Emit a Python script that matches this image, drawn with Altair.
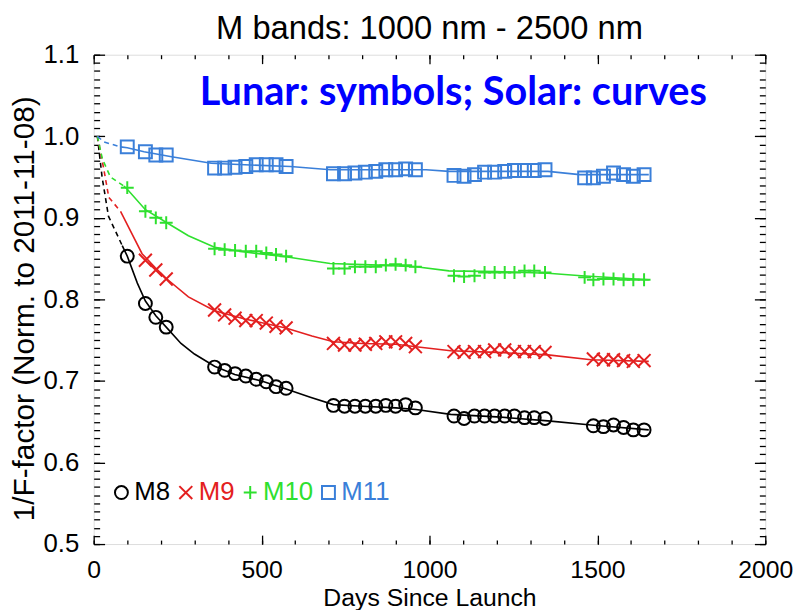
import altair as alt
import pandas as pd

TITLE = "M bands: 1000 nm - 2500 nm"
X_TITLE = "Days Since Launch"
Y_TITLE = "1/F-factor (Norm. to 2011-11-08)"
NOTE = "Lunar: symbols; Solar: curves"

bands = ["M8", "M9", "M10", "M11"]
band_colors = ["#000000", "#e32020", "#2ee02e", "#3a7fd9"]
band_shapes = ["circle", "M-1,-1L1,1M-1,1L1,-1", "M-1,0L1,0M0,-1L0,1", "square"]

x_ticks = [0, 500, 1000, 1500, 2000]
y_ticks = [0.5, 0.6, 0.7, 0.8, 0.9, 1.0, 1.1]
x_minor = list(range(0, 2001, 100))
y_minor = [round(0.5 + 0.01 * i, 2) for i in range(61)]

# ---- lunar observations (symbols) ----
m8_days = [100, 154, 185, 216,
           360, 390, 421, 453, 484, 514, 543, 573,
           714, 747, 778, 809, 840, 870, 899, 929, 958,
           1073, 1103, 1134, 1164, 1194, 1224, 1253, 1283, 1312, 1344,
           1488, 1518, 1548, 1578, 1607, 1639]
m8_vals = [0.853, 0.795, 0.778, 0.766,
           0.717, 0.713, 0.709, 0.706, 0.702, 0.699, 0.693, 0.691,
           0.670, 0.669, 0.669, 0.669, 0.669, 0.670, 0.669, 0.671, 0.667,
           0.657, 0.654, 0.657, 0.657, 0.657, 0.657, 0.657, 0.655, 0.655, 0.654,
           0.645, 0.644, 0.646, 0.643, 0.640, 0.640]

m9_days = [154, 185, 216,
           360, 390, 421, 453, 484, 514, 543, 573,
           714, 747, 778, 809, 840, 870, 899, 929, 958,
           1073, 1103, 1134, 1164, 1194, 1224, 1253, 1283, 1312, 1344,
           1488, 1518, 1548, 1578, 1607, 1639]
m9_vals = [0.848, 0.836, 0.825,
           0.787, 0.781, 0.777, 0.774, 0.774, 0.771, 0.767, 0.765,
           0.746, 0.744, 0.744, 0.745, 0.746, 0.748, 0.748, 0.746, 0.742,
           0.736, 0.735, 0.736, 0.736, 0.738, 0.738, 0.736, 0.736, 0.736, 0.735,
           0.727, 0.726, 0.726, 0.725, 0.724, 0.725]

m10_days = [100, 154, 185, 216,
            360, 390, 421, 453, 484, 514, 543, 573,
            714, 747, 778, 809, 840, 870, 899, 929, 958,
            1073, 1103, 1134, 1164, 1194, 1224, 1253, 1283, 1312, 1344,
            1462, 1488, 1518, 1548, 1578, 1607, 1639]
m10_vals = [0.937, 0.908, 0.900, 0.894,
            0.862, 0.861, 0.860, 0.859, 0.859, 0.857, 0.855, 0.853,
            0.838, 0.838, 0.840, 0.840, 0.840, 0.842, 0.843, 0.842, 0.840,
            0.829, 0.828, 0.829, 0.833, 0.833, 0.833, 0.833, 0.835, 0.835, 0.833,
            0.827, 0.824, 0.825, 0.825, 0.824, 0.824, 0.824]

m11_days = [100, 154, 185, 216,
            360, 390, 421, 453, 484, 514, 543, 573,
            714, 747, 778, 809, 840, 870, 899, 929, 958,
            1073, 1103, 1134, 1164, 1194, 1224, 1253, 1283, 1312, 1344,
            1462, 1488, 1518, 1548, 1578, 1607, 1639]
m11_vals = [0.987, 0.981, 0.977, 0.977,
            0.961, 0.961, 0.962, 0.963, 0.965, 0.965, 0.965, 0.963,
            0.954, 0.954, 0.955, 0.956, 0.957, 0.959, 0.959, 0.960, 0.959,
            0.952, 0.951, 0.953, 0.956, 0.956, 0.957, 0.958, 0.958, 0.958, 0.959,
            0.949, 0.949, 0.951, 0.955, 0.953, 0.951, 0.953]

# ---- solar curves (solid part) ----
m8_curve_days = [85, 100, 130, 154, 185, 216, 260, 300, 360, 420, 500, 573, 645, 714, 800, 900, 960, 1063, 1200, 1353, 1481, 1653]
m8_curve_vals = [0.866, 0.853, 0.820, 0.798, 0.780, 0.766, 0.746, 0.733, 0.718, 0.708, 0.700, 0.690, 0.680, 0.671, 0.669, 0.667, 0.665, 0.659, 0.656, 0.651, 0.646, 0.640]
m9_curve_days = [80, 144, 183, 218, 282, 360, 450, 572, 650, 714, 800, 900, 960, 1063, 1200, 1353, 1481, 1653]
m9_curve_vals = [0.908, 0.856, 0.839, 0.825, 0.803, 0.786, 0.776, 0.765, 0.755, 0.748, 0.746, 0.745, 0.742, 0.737, 0.735, 0.732, 0.726, 0.724]
m10_curve_days = [90, 100, 154, 218, 282, 360, 450, 577, 704, 850, 960, 1058, 1200, 1353, 1452, 1653]
m10_curve_vals = [0.939, 0.935, 0.910, 0.894, 0.878, 0.864, 0.858, 0.852, 0.844, 0.842, 0.840, 0.835, 0.834, 0.832, 0.829, 0.824]
m11_curve_days = [80, 100, 150, 232, 350, 450, 586, 705, 850, 990, 1058, 1200, 1353, 1447, 1653]
m11_curve_vals = [0.987, 0.986, 0.981, 0.975, 0.967, 0.965, 0.963, 0.959, 0.959, 0.959, 0.957, 0.957, 0.957, 0.953, 0.953]

# ---- solar curves (dashed early part) ----
m8_dash_days = [11, 25, 44, 85]
m8_dash_vals = [1.0, 0.950, 0.902, 0.866]
m9_dash_days = [11, 30, 45, 80]
m9_dash_vals = [1.0, 0.960, 0.925, 0.908]
m10_dash_days = [11, 26, 50, 90]
m10_dash_vals = [1.0, 0.972, 0.950, 0.939]
m11_dash_days = [11, 31, 80]
m11_dash_vals = [1.0, 0.993, 0.987]

note_day = [1071]
note_val = [1.038]


def long_df(pairs):
    rows = []
    for band, days, vals in pairs:
        for d, v in zip(days, vals):
            rows.append({"band": band, "day": d, "value": v})
    return pd.DataFrame(rows)


lunar_df = long_df([("M8", m8_days, m8_vals), ("M9", m9_days, m9_vals),
                    ("M10", m10_days, m10_vals), ("M11", m11_days, m11_vals)])
solid_df = long_df([("M8", m8_curve_days, m8_curve_vals), ("M9", m9_curve_days, m9_curve_vals),
                    ("M10", m10_curve_days, m10_curve_vals), ("M11", m11_curve_days, m11_curve_vals)])
dash_df = long_df([("M8", m8_dash_days, m8_dash_vals), ("M9", m9_dash_days, m9_dash_vals),
                   ("M10", m10_dash_days, m10_dash_vals), ("M11", m11_dash_days, m11_dash_vals)])
note_df = pd.DataFrame({"day": note_day, "value": note_val, "label": [NOTE]})
anchor_df = pd.DataFrame({"day": [0], "value": [0.5]})

FONT = "Liberation Sans"
W, H = 678, 494

x_scale = alt.Scale(domain=[0, 2000], nice=False, zero=False)
y_scale = alt.Scale(domain=[0.5, 1.1], nice=False, zero=False)
color_scale = alt.Scale(domain=bands, range=band_colors)
shape_scale = alt.Scale(domain=bands, range=band_shapes)

label_expr = ("datum.label == 'M8' ? '%s' : datum.label == 'M9' ? '%s' : "
              "datum.label == 'M10' ? '%s' : '%s'") % tuple(band_colors)

legend = alt.Legend(title=None, orient="none", legendX=15, legendY=429,
                    direction="horizontal", padding=0,
                    labelFont=FONT, labelFontSize=26, labelColor=alt.ExprRef(expr=label_expr),
                    labelOffset=0, columnPadding=2,
                    symbolStrokeWidth=2, symbolSize=170)

x_label_axis = alt.Axis(orient="bottom", values=x_ticks, format="d", ticks=False, domain=False,
                        grid=False, labelFont=FONT, labelFontSize=25, labelColor="black",
                        labelPadding=14, labelFlush=False, labelOverlap=False,
                        title=X_TITLE, titleFont=FONT, titleFontSize=25, titleFontWeight="normal",
                        titleColor="black", titleX=W / 2, titleY=54, titleAlign="center",
                        titleBaseline="middle")
y_label_axis = alt.Axis(orient="left", values=y_ticks, format=".1f", ticks=False, domain=False,
                        grid=False, labelFont=FONT, labelFontSize=26, labelColor="black",
                        labelPadding=15, labelOverlap=False, labelFlush=False,
                        title=Y_TITLE, titleFont=FONT, titleFontSize=30, titleFontWeight="normal",
                        titleColor="black", titleX=-69.5, titleY=256, titleAngle=270,
                        titleAlign="center", titleBaseline="middle")

solid = alt.Chart(solid_df).mark_line(strokeWidth=1.6).encode(
    x=alt.X("day:Q", scale=x_scale, axis=x_label_axis),
    y=alt.Y("value:Q", scale=y_scale, axis=y_label_axis),
    color=alt.Color("band:N", scale=color_scale, sort=bands, legend=legend),
    order="day:Q",
)

dashed = alt.Chart(dash_df).mark_line(strokeWidth=1.6, strokeDash=[5, 4]).encode(
    x=alt.X("day:Q", scale=x_scale, axis=None),
    y=alt.Y("value:Q", scale=y_scale, axis=None),
    color=alt.Color("band:N", scale=color_scale, sort=bands, legend=legend),
    order="day:Q",
)

points = alt.Chart(lunar_df).mark_point(filled=False, strokeWidth=2, size=170, opacity=1).encode(
    x=alt.X("day:Q", scale=x_scale, axis=None),
    y=alt.Y("value:Q", scale=y_scale, axis=None),
    color=alt.Color("band:N", scale=color_scale, sort=bands, legend=legend),
    shape=alt.Shape("band:N", scale=shape_scale, sort=bands, legend=legend),
)

note = alt.Chart(note_df).mark_text(font="Lato", fontWeight="bold", fontSize=40, color="#0000ff",
                                    align="center", baseline="alphabetic").encode(
    x=alt.X("day:Q", scale=x_scale, axis=None),
    y=alt.Y("value:Q", scale=y_scale, axis=None),
    text="label:N",
)


def tick_axis(orient, offset, values, size):
    return alt.Axis(orient=orient, offset=offset, values=values, tickSize=size, ticks=True,
                    labels=False, domain=False, grid=False, title=None,
                    tickColor="black", tickWidth=1.3)


def tick_layer(xaxis, yaxis):
    return alt.Chart(anchor_df).mark_point(opacity=0).encode(
        x=alt.X("day:Q", scale=x_scale, axis=xaxis),
        y=alt.Y("value:Q", scale=y_scale, axis=yaxis),
    )


# inward ticks on all four sides (major and minor)
t1 = tick_layer(tick_axis("top", -H, x_ticks, 9), tick_axis("right", -W, y_ticks, 11))
t2 = tick_layer(tick_axis("top", -H, x_minor, 4), tick_axis("right", -W, y_minor, 6))
t3 = tick_layer(tick_axis("bottom", -H, x_ticks, 9), tick_axis("left", -W, y_ticks, 11))
t4 = tick_layer(tick_axis("bottom", -H, x_minor, 4), tick_axis("left", -W, y_minor, 6))

chart = alt.layer(solid, dashed, points, note, t1, t2, t3, t4).resolve_axis(
    x="independent", y="independent"
).properties(
    width=W, height=H,
    title=alt.TitleParams(TITLE, font=FONT, fontSize=33, fontWeight="normal", color="black",
                          anchor="middle", offset=-4),
    autosize=alt.AutoSizeParams(type="none"),
    padding={"left": 86.5, "top": 44.3, "right": 32, "bottom": 64},
).configure_view(stroke="black", strokeWidth=1.6).configure(background="white")

chart.save("out.html", embed_options={"renderer": "svg", "actions": False})
